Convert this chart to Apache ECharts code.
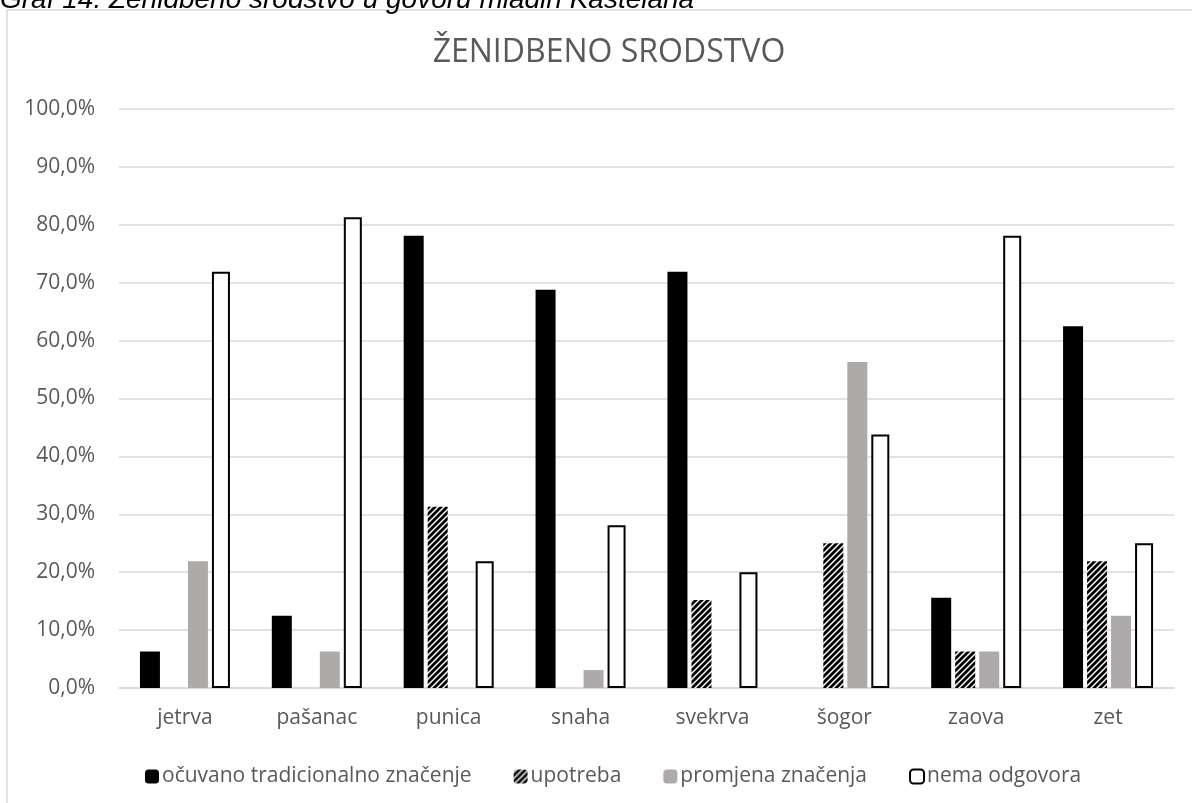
<!DOCTYPE html>
<html>
<head>
<meta charset="utf-8">
<script src="https://cdn.jsdelivr.net/npm/echarts@6/dist/echarts.min.js"></script>
<style>
    html, body { margin: 0; padding: 0; background: #fff; }
    #chart { width: 1192px; height: 803px; }
</style>
</head>
<body>
<div id="chart"></div>
<script>
// podaci (postotci)
const categories = ['jetrva', 'pašanac', 'punica', 'snaha', 'svekrva', 'šogor', 'zaova', 'zet']
const seriesNames = ['očuvano tradicionalno značenje', 'upotreba', 'promjena značenja', 'nema odgovora']
const ocuvano = [6.3, 12.5, 78.1, 68.8, 71.9, 0, 15.6, 62.5]
const upotreba = [0, 0, 31.3, 0, 15.2, 25.0, 6.3, 21.9]
const promjena = [21.9, 6.3, 0, 3.1, 0, 56.3, 6.3, 12.5]
const nemaOdgovora = [71.9, 81.3, 21.9, 28.1, 20.0, 43.8, 78.1, 25.0]
const yTicks = { min: 0, max: 100, interval: 10 }

const txt = '#595959'
const font = 'Open Sans'

// kosa crta (hatch) za "upotreba"
const hatch = document.createElement('canvas')
hatch.width = 6
hatch.height = 6
const hc = hatch.getContext('2d')
hc.fillStyle = '#fff'
hc.fillRect(0, 0, 6, 6)
hc.strokeStyle = '#000'
hc.lineWidth = 2.8
hc.beginPath()
hc.moveTo(-1, 7); hc.lineTo(7, -1)
hc.moveTo(-4, 4); hc.lineTo(4, -4)
hc.moveTo(2, 10); hc.lineTo(10, 2)
hc.stroke()

const chart = echarts.init(document.getElementById('chart'))
chart.setOption({
    animation: false,
    textStyle: { fontFamily: font },
    title: {
        text: 'ŽENIDBENO SRODSTVO',
        left: 604,
        textAlign: 'center',
        top: 32,
        textStyle: { color: txt, fontSize: 32, fontWeight: 'normal', fontFamily: font }
    },
    graphic: [
        {
            type: 'rect',
            shape: { x: 7, y: 10, width: 1300, height: 900 },
            style: { fill: null, stroke: '#d9d9d9', lineWidth: 1.5 },
            silent: true
        },
        {
            type: 'text',
            left: 0,
            top: -14,
            style: {
                text: 'Graf 14. Ženidbeno srodstvo u govoru mladih Kaštelana',
                font: 'italic 28px "Liberation Sans"',
                fill: '#000'
            }
        }
    ],
    legend: {
        left: 140,
        top: 761,
        itemWidth: 14,
        itemHeight: 14,
        itemGap: 42,
        textStyle: { color: txt, fontSize: 21, padding: [0, 0, 0, -2] },
        data: seriesNames
    },
    grid: { left: 119, right: 18, top: 109, bottom: 115 },
    xAxis: {
        type: 'category',
        data: categories,
        axisTick: { show: false },
        axisLine: { lineStyle: { color: '#d9d9d9', width: 1.5 } },
        axisLabel: { color: txt, fontSize: 21, margin: 20 }
    },
    yAxis: {
        type: 'value',
        min: yTicks.min,
        max: yTicks.max,
        interval: yTicks.interval,
        axisLabel: {
            color: txt,
            fontSize: 21,
            margin: 24,
            formatter: v => v.toFixed(1).replace('.', ',') + '%'
        },
        splitLine: { lineStyle: { color: '#d9d9d9', width: 1.5 } }
    },
    series: [
        {
            name: seriesNames[0], type: 'bar', data: ocuvano,
            barWidth: 20, barGap: '20%',
            itemStyle: { color: '#000' }
        },
        {
            name: seriesNames[1], type: 'bar', data: upotreba,
            barWidth: 20, barGap: '20%',
            itemStyle: { color: { image: hatch, repeat: 'repeat' } }
        },
        {
            name: seriesNames[2], type: 'bar', data: promjena,
            barWidth: 20, barGap: '20%',
            itemStyle: { color: '#aeaaaa' }
        },
        {
            name: seriesNames[3], type: 'bar', data: nemaOdgovora,
            barWidth: 18, barGap: '20%',
            itemStyle: { color: '#fff', borderColor: '#000', borderWidth: 2 }
        }
    ]
})
</script>
</body>
</html>
